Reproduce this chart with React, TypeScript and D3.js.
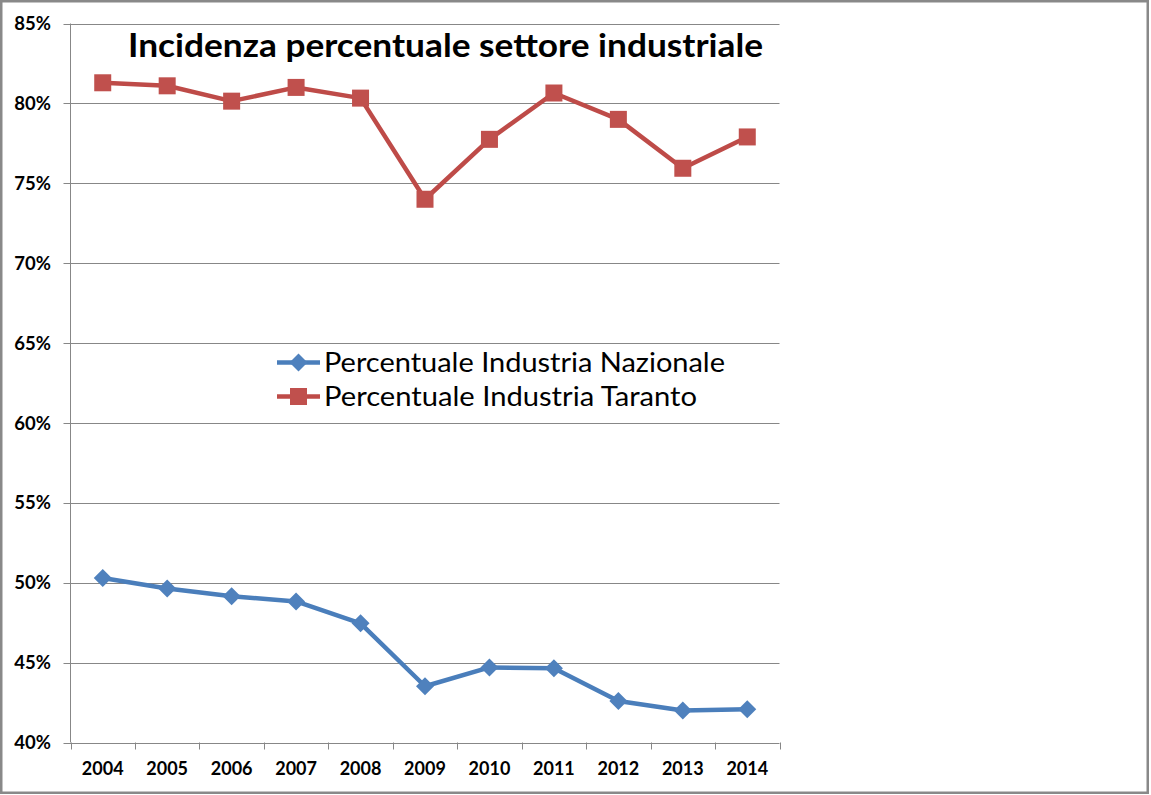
import * as d3 from 'd3';

const years = ['2004', '2005', '2006', '2007', '2008', '2009', '2010', '2011', '2012', '2013', '2014'];
const nazionale = [50.3, 49.64, 49.16, 48.83, 47.46, 43.52, 44.7, 44.65, 42.6, 42.0, 42.08];
const taranto = [81.29, 81.1, 80.14, 81.0, 80.33, 74.0, 77.75, 80.65, 79.0, 75.94, 77.9];
const yTicks = [40, 45, 50, 55, 60, 65, 70, 75, 80, 85];

const title = 'Incidenza percentuale settore industriale';
const legendNames = ['Percentuale Industria Nazionale', 'Percentuale Industria Taranto'];

const W = 1151;
const H = 795;
const left = 70.5;
const right = 779.5;
const top = 23.5;
const bottom = 742.5;

const blue = '#4A7EBB';
const blueFill = '#4F81BD';
const red = '#BE4B48';
const redFill = '#C0504D';
const grid = '#878787';
const font = 'Lato, "Noto Sans", sans-serif';

const diamond = 'M0,-9L9,0L0,9L-9,0Z';

export default function App() {
  const x = d3.scaleBand<string>().domain(years).range([left, right]);
  const y = d3.scaleLinear().domain([40, 85]).range([bottom, top]);
  const cx = (d: string) => (x(d) ?? 0) + x.bandwidth() / 2;

  const line = d3
    .line<number>()
    .x((_, i) => cx(years[i]))
    .y((v) => y(v));

  const bounds = [...years.map((d) => x(d) ?? 0), right];

  return (
    <svg width={W} height={H} style={{ position: 'absolute', left: 0, top: 0, background: '#fff' }}>
      <rect x={1.25} y={1.25} width={W - 4.5} height={H - 3.5} fill="#fff" stroke="#898989" strokeWidth={2.5} />

      {/* gridlines + y labels */}
      {yTicks.map((t) => (
        <g key={t}>
          <line x1={left - 7} x2={right} y1={Math.round(y(t)) + 0.5} y2={Math.round(y(t)) + 0.5} stroke={grid} strokeWidth={1} />
          <text
            x={51}
            y={y(t)}
            dy="0.36em"
            textAnchor="end"
            fontFamily={font}
            fontWeight={700}
            fontSize={18.5}
            fill="#000"
          >
            {t}%
          </text>
        </g>
      ))}

      {/* axes */}
      <line x1={left} x2={left} y1={top} y2={bottom} stroke={grid} strokeWidth={1} />
      {bounds.map((b, i) => (
        <line key={i} x1={Math.round(b) + 0.5} x2={Math.round(b) + 0.5} y1={bottom} y2={bottom + 7} stroke={grid} strokeWidth={1} />
      ))}
      {years.map((d) => (
        <text
          key={d}
          x={cx(d)}
          y={769}
          dy="0.36em"
          textAnchor="middle"
          fontFamily={font}
          fontWeight={700}
          fontSize={18}
          fill="#000"
        >
          {d}
        </text>
      ))}

      {/* series */}
      <path d={line(taranto) ?? ''} fill="none" stroke={red} strokeWidth={4.5} strokeLinejoin="round" />
      {taranto.map((v, i) => (
        <rect key={i} x={cx(years[i]) - 8.5} y={y(v) - 8.5} width={17} height={17} fill={redFill} />
      ))}
      <path d={line(nazionale) ?? ''} fill="none" stroke={blue} strokeWidth={4.5} strokeLinejoin="round" />
      {nazionale.map((v, i) => (
        <path key={i} d={diamond} transform={`translate(${cx(years[i])},${y(v)})`} fill={blueFill} />
      ))}

      {/* title */}
      <text
        x={128}
        y={57}
        fontFamily={font}
        fontWeight={700}
        fontSize={32}
        textLength={635}
        lengthAdjust="spacingAndGlyphs"
        fill="#000"
      >
        {title}
      </text>

      {/* legend */}
      <g>
        <line x1={277} x2={320} y1={362.5} y2={362.5} stroke={blue} strokeWidth={4.5} />
        <path d={diamond} transform="translate(298.5,362.5)" fill={blueFill} />
        <text x={324} y={362.5} dy="0.36em" fontFamily={font} fontSize={26} textLength={401} lengthAdjust="spacingAndGlyphs" fill="#000">
          {legendNames[0]}
        </text>
        <line x1={277} x2={320} y1={396.5} y2={396.5} stroke={red} strokeWidth={4.5} />
        <rect x={290} y={388} width={17} height={17} fill={redFill} />
        <text x={324} y={396.5} dy="0.36em" fontFamily={font} fontSize={26} textLength={373} lengthAdjust="spacingAndGlyphs" fill="#000">
          {legendNames[1]}
        </text>
      </g>
    </svg>
  );
}
